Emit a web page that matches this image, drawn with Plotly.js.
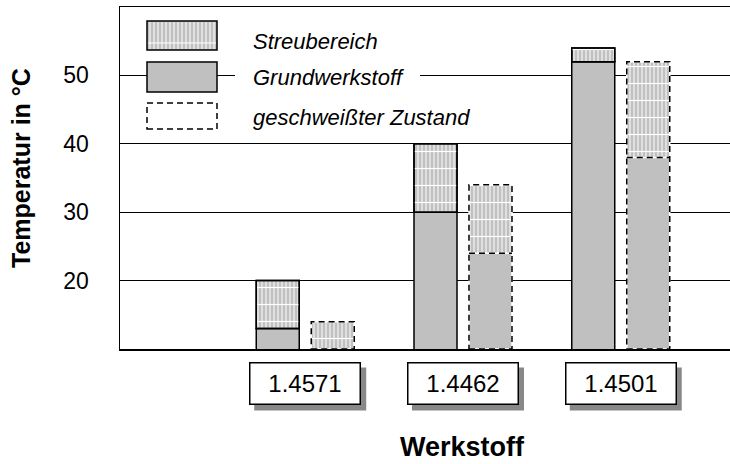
<!DOCTYPE html>
<html><head><meta charset="utf-8">
<script src="https://cdn.plot.ly/plotly-3.0.1.min.js"></script>
<style>html,body{margin:0;padding:0;background:#fff}</style>
</head><body><div id="chart" style="width:730px;height:464px"></div>
<script>
// ---- data ----
const categories = ['1.4571', '1.4462', '1.4501'];
const baseMetalLow = [13, 30, 52];     // Grundwerkstoff (solid part top)
const baseMetalHigh = [20, 40, 54];    // Grundwerkstoff Streubereich top
const weldedLow = [10, 24, 38];        // geschweißter Zustand (solid part top)
const weldedHigh = [14, 34, 52];       // geschweißter Zustand Streubereich top
const yTicks = [20, 30, 40, 50];
const legendLabels = ['Streubereich', 'Grundwerkstoff', 'geschweißter Zustand'];
const xTitle = 'Werkstoff';
const yTitle = 'Temperatur in °C';

// ---- styling / layout constants ----
const FONT = 'Arial, "Liberation Sans", sans-serif';
const GRAY = '#c0c0c0';
const Y_MIN = 10, Y_MAX = 60;
const X_RANGE = [-1.1743, 2.6926];
const BW = 0.2726;          // bar width (category units)
const OFF_BASE = -0.3106;   // offset of Grundwerkstoff bar
const OFF_WELD = 0.038;     // offset of welded bar
const DASH = '6px,4px';
const PLOT = {l: 120, r: 730, t: 7, b: 349};
const px = v => (v - PLOT.l) / (PLOT.r - PLOT.l);
const py = v => (PLOT.b - v) / (PLOT.b - PLOT.t);
const UNIT_PX = (PLOT.r - PLOT.l) / (X_RANGE[1] - X_RANGE[0]);

const diff = (a, b) => a.map((v, i) => v - b[i]);

function hatchTraces(base, len, offset, line) {
  return [
    {type: 'bar', x: categories, y: len, base: base, width: BW, offset: offset,
     marker: {color: GRAY, line: line,
       pattern: {shape: '|', size: 4, solidity: 0.25, fgcolor: '#ffffff', bgcolor: GRAY, fillmode: 'replace'}},
     hoverinfo: 'skip'},
    {type: 'bar', x: categories, y: len, base: base, width: BW, offset: offset,
     marker: {color: 'rgba(0,0,0,0)', line: line,
       pattern: {shape: '-', size: 17, solidity: 0.07, fgcolor: '#ffffff', bgcolor: 'rgba(0,0,0,0)', fillmode: 'replace'}},
     hoverinfo: 'skip'}
  ];
}

const solidLine = {color: '#000', width: 1.5};
const noLine = {color: 'rgba(0,0,0,0)', width: 0};

const traces = [
  {type: 'bar', x: categories, y: baseMetalLow, width: BW, offset: OFF_BASE,
   marker: {color: GRAY, line: solidLine}, hoverinfo: 'skip'},
  ...hatchTraces(baseMetalLow, diff(baseMetalHigh, baseMetalLow), OFF_BASE, solidLine),
  {type: 'bar', x: categories, y: weldedLow, width: BW, offset: OFF_WELD,
   marker: {color: GRAY, line: noLine}, hoverinfo: 'skip'},
  ...hatchTraces(weldedLow, diff(weldedHigh, weldedLow), OFF_WELD, noLine)
];

// dashed outlines of welded bars
const shapes = [];
categories.forEach((c, i) => {
  const x0 = i + OFF_WELD, x1 = i + OFF_WELD + BW;
  [{color: '#fff', dash: 'solid'}, {color: '#000', dash: DASH}].forEach(st => {
    shapes.push({type: 'rect', xref: 'x', yref: 'y', x0: x0, x1: x1, y0: Y_MIN, y1: weldedHigh[i],
      line: {color: st.color, width: 1.5, dash: st.dash}, fillcolor: 'rgba(0,0,0,0)'});
    if (weldedLow[i] > Y_MIN) {
      shapes.push({type: 'line', xref: 'x', yref: 'y', x0: x0, x1: x1, y0: weldedLow[i], y1: weldedLow[i],
        line: {color: st.color, width: 1.5, dash: st.dash}});
    }
  });
});

// drop shadows behind the boxed category labels
const BOX_W = 112, BOX_H = 43, BOX_CY = 383, SH_DX = 5, SH_DY = 6;
categories.forEach((c, i) => {
  const half = BOX_W / 2 / UNIT_PX, dx = SH_DX / UNIT_PX;
  shapes.push({type: 'rect', xref: 'x', yref: 'paper', x0: i - half + dx, x1: i + half + dx,
    y0: py(BOX_CY + BOX_H / 2 + SH_DY), y1: py(BOX_CY - BOX_H / 2 + SH_DY),
    fillcolor: '#888888', line: {width: 0}});
});

// custom legend symbols
const LX0 = 147, LX1 = 217;
shapes.push({type: 'rect', xref: 'paper', yref: 'paper', x0: px(LX0), x1: px(LX1), y0: py(50), y1: py(21),
  fillcolor: GRAY, line: {width: 0}});
let p = '';
for (let xx = LX0 + 3; xx < LX1 - 1; xx += 4) p += `M${px(xx)},${py(22)}V${py(49)}`;
p += `M${px(LX0 + 1)},${py(43)}H${px(LX1 - 1)}`;
shapes.push({type: 'path', xref: 'paper', yref: 'paper', path: p, line: {color: '#fff', width: 1}});
shapes.push({type: 'rect', xref: 'paper', yref: 'paper', x0: px(LX0), x1: px(LX1), y0: py(50), y1: py(21),
  fillcolor: 'rgba(0,0,0,0)', line: {color: '#000', width: 1.5}});
shapes.push({type: 'rect', xref: 'paper', yref: 'paper', x0: px(LX0), x1: px(LX1), y0: py(92), y1: py(62),
  fillcolor: GRAY, line: {color: '#000', width: 1.5}});
shapes.push({type: 'rect', xref: 'paper', yref: 'paper', x0: px(235), x1: px(420), y0: py(88), y1: py(64),
  fillcolor: '#fff', line: {width: 0}});
shapes.push({type: 'rect', xref: 'paper', yref: 'paper', x0: px(LX0), x1: px(LX1), y0: py(129), y1: py(103),
  fillcolor: '#fff', line: {color: '#000', width: 1.5, dash: DASH}});

const annotations = [];
const legendY = [41, 77, 117];
legendLabels.forEach((t, i) => {
  annotations.push({xref: 'paper', yref: 'paper', x: px(251), y: py(legendY[i]), xanchor: 'left', yanchor: 'middle',
    text: t, showarrow: false, font: {family: FONT, size: 22, color: '#000', style: 'italic'}});
});

// boxed category labels
categories.forEach((c, i) => {
  annotations.push({xref: 'x', yref: 'paper', x: i, y: py(BOX_CY), xanchor: 'center', yanchor: 'middle',
    text: c, showarrow: false,
    width: BOX_W - 7, height: BOX_H - 7, borderpad: 2, bgcolor: '#ffffff', bordercolor: '#000000', borderwidth: 1.5,
    valign: 'middle', font: {family: FONT, size: 24, color: '#000'}});
});

// axis titles
annotations.push({xref: 'x', yref: 'paper', x: 1, y: py(447), xanchor: 'center', yanchor: 'middle',
  text: '<b>' + xTitle + '</b>', showarrow: false, font: {family: FONT, size: 27, color: '#000'}});
annotations.push({xref: 'paper', yref: 'paper', x: px(21), y: py(168), xanchor: 'center', yanchor: 'middle',
  text: '<b>' + yTitle + '</b>', textangle: -90, showarrow: false, font: {family: FONT, size: 25, color: '#000'}});

const layout = {
  width: 730, height: 464,
  margin: {l: PLOT.l, r: 730 - PLOT.r, t: PLOT.t, b: 464 - PLOT.b, pad: 0},
  paper_bgcolor: '#fff', plot_bgcolor: '#fff',
  barmode: 'overlay', showlegend: false,
  font: {family: FONT, size: 22, color: '#000'},
  xaxis: {type: 'category', categoryarray: categories, range: X_RANGE,
    showticklabels: false, ticks: '', showgrid: false, zeroline: false,
    showline: true, linecolor: '#000', linewidth: 1.5, mirror: true, fixedrange: true},
  yaxis: {range: [Y_MIN, Y_MAX], tickvals: yTicks, ticks: '', ticklabelstandoff: 25,
    showgrid: true, gridcolor: '#000', gridwidth: 1.3, zeroline: false,
    showline: true, linecolor: '#000', linewidth: 1.5, fixedrange: true,
    tickfont: {family: FONT, size: 23, color: '#000'}},
  shapes: shapes,
  annotations: annotations
};

Plotly.newPlot('chart', traces, layout, {staticPlot: true, displayModeBar: false});
</script>
</body></html>
